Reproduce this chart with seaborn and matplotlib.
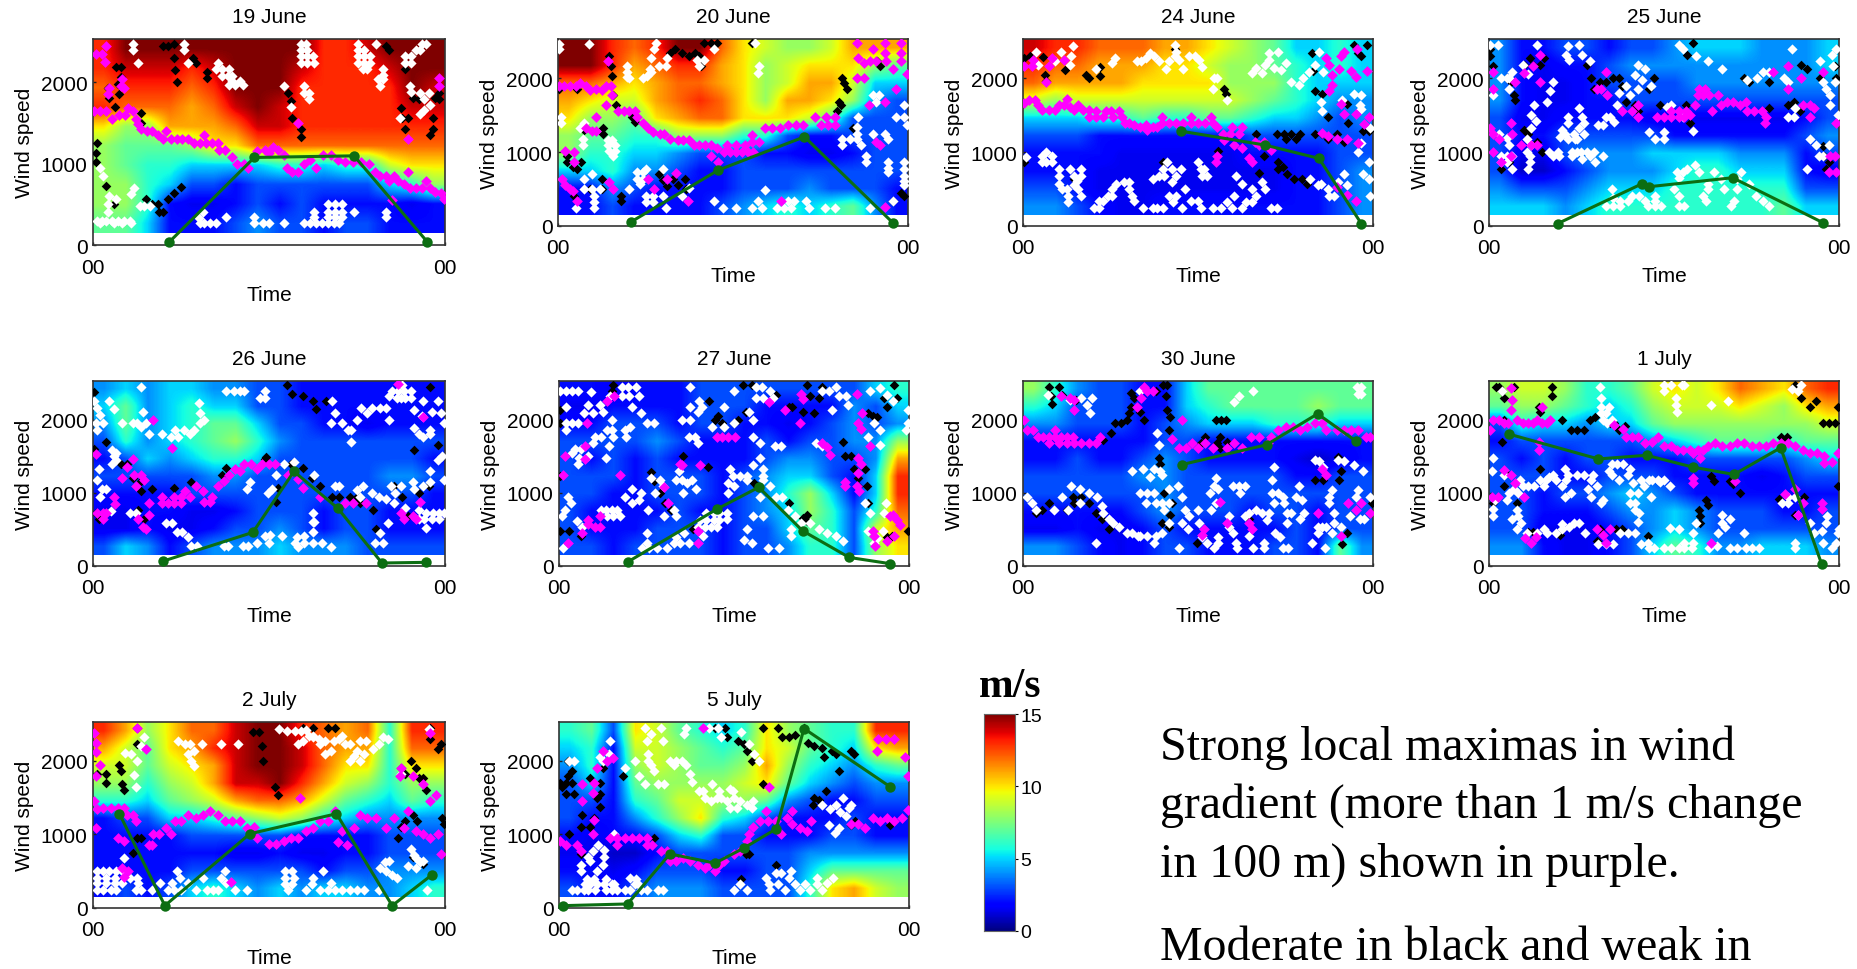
#!/usr/bin/env python3

import numpy as np
import seaborn as sns
import matplotlib
matplotlib.use("Agg")
import matplotlib.pyplot as plt

sns.set_style("white")
plt.rcParams['font.family'] = ['Liberation Sans', 'DejaVu Sans']
plt.rcParams['text.color'] = 'black'
plt.rcParams['axes.labelcolor'] = 'black'
plt.rcParams['xtick.color'] = 'black'
plt.rcParams['ytick.color'] = 'black'

W, H = 1857, 970

titles = ["19 June", "20 June", "24 June", "25 June", "26 June",
          "27 June", "30 June", "1 July", "2 July", "5 July"]
tick_hours = [0, 24]
tick_hour_labels = ["00", "00"]
tick_heights = [0, 1000, 2000]
cbar_ticks = [0, 5, 10, 15]

# wind speed (m/s), one row per height from top to bottom, 16 columns of 1.5 h
wind_19 = [[13,15,15,15,15,15,15,15,15,15,13,13,14,15,15,15],
           [13,14,14,14,13,14,15,15,15,14,13,13,13,14,15,15],
           [12,13,13,13,12,13,15,15,15,13,13,13,13,13,15,14],
           [13,12,12,12,11,12,14,15,14,13,13,13,13,13,14,14],
           [10,8,8,11,11,11,12,14,14,13,13,13,13,13,13,13],
           [8,7,7,7,8,10,10,12,12,12,12,12,12,12,12,12],
           [8,7,6,6,5,5,5,5,6,6,5,6,6,9,10,10],
           [8,8,6,5,3,3,2,3,3,3,3,3,3,5,6,8],
           [8,8,6,2,1.5,1.5,2,3,2,3,2,2,2,2,1.5,2],
           [7,7,5,2,2,2,3,4,3,3,2,3,3,2,2,2]]
wind_20 = [[15,15,13,12,13,15,15,12,10,9,8,8,9,11,11,11],
           [15,15,13,11,12,13,13,11,10,8,9,10,10,10,8,7],
           [12,12,11,10,11,12,12,11,10,8,9,11,11,9,5,5],
           [11,10,9,9,11,12,13,12,10,8,11,11,10,8,4,3],
           [10,8,8,7,10,11,12,12,10,10,10,9,7,3,3,3],
           [8,7,7,6,6,8,8,8,6,6,3,2,2,3,3,3],
           [8,6,6,5,5,4,3,3,3,2,2,1.5,1.5,2,3,3],
           [5,5,6,4,4,3,2,2,3,3,3,3,3,3,3,3],
           [2,2,4,3,2,2,2,2,3,3,3,4,3,3,3,2],
           [2,2,3,2,2,2,2,3,4,5,6,5,6,7,4,2]]
wind_24 = [[14,13,13,12,12,12,11,11,10,9,8,7,5,5,6,5],
           [13,12,12,11,11,11,10,10,9,8,8,7,6,5,6,5],
           [12,11,11,11,11,10,10,10,10,8,8,8,6,5,5,5],
           [9,8,9,9,9,9,9,9,9,9,8,7,6,5,4,4],
           [5,5,5,6,6,7,6,6,7,7,6,5,5,4,3,4],
           [3,3,3,2,2,2,2,2,2,2,3,3,3,3,3,3],
           [2,2,2,2,1.5,1.5,1.5,1.5,1.5,1.5,2,2,2,2,3,3],
           [2,2,2,1.5,1.5,1.5,1.5,1.5,1.5,1.5,1.5,1.5,2,2,3,4],
           [3,3,2,1.5,1.5,1.5,1.5,1.5,1.5,1.5,1.5,1.5,2,2,3,4],
           [4,4,3,2,1.5,1.5,2,2,2,2,2,2,2,2,3,4]]
wind_25 = [[4,2,2,3,3,2,3,3,4,5,5,5,4,4,4,5],
           [4,2,1.5,2,2,3,4,4,4,4,4,4,4,4,4,5],
           [4,2,1.5,1.5,2,3,3,3,3,4,4,4,4,4,4,4],
           [4,2,1.5,1.5,2,2,3,3,3,3,3,3,3,3,3,3],
           [3,1.5,1.5,2,2,2,2,1.5,1.5,1.5,1.5,1.5,1.5,1.5,2,3],
           [3,2,2,3,3,3,3,3,2,2,2,2,2,2,3,4],
           [3,1.5,1.5,3,4,4,4,5,5,5,5,4,4,4,2,3],
           [3,1,1,2,3,4,4,4,5,6,6,5,5,5,2,1.5],
           [4,3,3,3,4,5,5,5,6,6,6,6,6,6,3,3],
           [5,5,5,4,5,6,6,6,6,6,6,6,6,7,5,5]]
wind_26 = [[4,5,4,5,5,4,4,3,3,2,2,2,2,2,2,2],
           [5,7,4,5,6,5,5,3,3,2,2,2,2,2,2,2],
           [4,7,4,5,6,7,7,5,3,3,2,2,1.5,2,2,2],
           [3,6,4,5,6,7,8,6,4,3,3,3,3,3,3,3],
           [2,3,5,4,5,6,6,5,3,3,3,3,3,3,3,2],
           [3,3,3,3,3,4,4,3,3,3,3,3,3,4,4,3],
           [2,2,2,2,3,3,3,3,3,3,3,3,3,3,3,2],
           [1.5,1.5,2,2,1.5,1.5,2,3,3,3,2,3,3,2,2,2],
           [1.5,1.5,2,1.5,1.5,2,3,3,4,3,2,3,3,2,2,2],
           [3,5,4,2,3,4,4,4,5,4,4,4,3,3,3,3]]
wind_27 = [[2,2,1.5,2,2,2,3,3,3,3,3,3,3,3,5,6],
           [1.5,1.5,2,2,2,2,3,3,3,2,2,2,2,4,3,5],
           [2,2,3,3,3,2,3,3,2,2,1.5,2,3,4,3,4],
           [3,3,3,3,4,3,2,2,2,3,2,3,3,4,4,8],
           [3,2,3,2,3,2,2,2,2,3,4,4,3,3,4,11],
           [3,3,3,2,3,3,3,2,3,4,5,5,3,2,5,13],
           [3,3,2,2,3,3,3,2,3,4,6,8,5,2,5,13],
           [3,2,2,2,2,3,2,2,3,4,5,8,6,3,6,12],
           [3,2,2,2,3,3,3,2,3,3,5,7,6,3,9,11],
           [3,3,2,3,3,3,3,2,3,3,4,6,6,3,8,10]]
wind_30 = [[8,6,4,3,3,2,2,5,7,7,7,7,7,7,7,7],
           [6,5,3,3,3,2,2,5,6,7,7,7,7,8,7,7],
           [4,4,3,3,3,2,3,4,5,5,5,6,6,6,5,5],
           [2,2,2,2,2,2,3,3,2,2,2,2,2,2,2,2],
           [2,2,3,2,2,3,4,3,2,2,2,2,1.5,1,1.5,2],
           [3,3,3,3,3,4,4,3,3,3,3,3,2,2,3,3],
           [3,3,3,3,3,3,4,3,3,3,3,3,3,3,3,3],
           [2,2,2,2,2,3,4,3,3,3,2,3,3,2,3,3],
           [1.5,1.5,2,1.5,1.5,2,3,2,2,2,2,2,3,2,3,3],
           [4,4,3,2,1.5,2,3,3,2,2,2,3,3,2,7,4]]
wind_01 = [[8,9,9,8,6,6,7,9,10,9,10,12,11,10,12,13],
           [7,8,8,7,6,5,6,8,9,9,9,10,9,8,10,11],
           [3,6,5,5,4,5,5,7,8,8,8,8,8,8,8,9],
           [2,3,3,3,3,3,3,4,5,6,7,7,7,6,7,7],
           [3,2,3,2,3,3,2,2,2,3,3,3,3,3,4,5],
           [3,3,3,2,2,3,3,3,2,2,2,2,1.5,2,3,3],
           [3,3,2,3,3,4,5,4,3,2,2,2,2,2,2,2],
           [3,3,2,2,2,3,4,4,5,4,3,3,3,2,2,3],
           [3,3,1.5,1.5,1.5,2,3,4,5,4,3,3,3,3,3,3],
           [4,4,2,1.5,1.5,2,3,5,7,6,4,4,5,5,5,4]]
wind_02 = [[13,11,8,10,12,12,14,15,15,13,12,11,12,6,13,13],
           [11,9,7,10,11,13,14,15,15,14,12,11,11,6,12,12],
           [9,9,7,9,10,11,14,15,15,14,12,10,10,6,10,10],
           [8,8,6,8,9,11,14,14,15,13,11,9,8,6,8,8],
           [6,6,5,7,8,9,11,12,12,11,9,7,6,5,7,6],
           [2,3,3,5,5,6,7,8,9,8,6,5,4,4,4,4],
           [2,2,2,2,3,3,3,3,3,2,2,2,2,3,3,3],
           [2,2,2,2,2,2,1.5,1.5,2,1.5,1.5,2,2,3,3,3],
           [2,2,2,2,3,3,3,3,3,3,2,3,3,4,4,4],
           [2,3,2,3,5,6,5,4,5,4,5,5,4,4,5,6]]
wind_05 = [[6,7,3,10,9,7,6,5,6,10,8,7,6,6,13,13],
           [5,6,2,9,9,8,7,6,7,10,9,7,6,5,10,11],
           [4,6,2,8,9,8,7,7,8,11,8,6,5,4,6,7],
           [3,5,2,7,8,8,8,8,9,10,7,5,4,3,4,4],
           [3,3,2,6,7,9,9,8,8,7,4,3,2,2,3,3],
           [3,2,2,4,6,8,10,6,5,3,2,2,2,3,2,2],
           [2,1.5,2,2,3,5,6,3,3,2,2,2,3,3,2,2],
           [1.5,1.5,1,1,2,3,3,3,3,3,3,4,4,4,4,4],
           [2,2,1.5,2,3,3,3,2,2,3,3,5,7,7,7,7],
           [3,2,2,3,4,4,4,3,3,3,3,6,10,11,9,8]]

# green line: hour, height
green_19 = [(5.2,37),(11,1075),(17.8,1095),(22.8,37)]
green_20 = [(5,55),(11,757),(16.9,1207),(23,36)]
green_24 = [(10.8,1284),(16.6,1095),(20.3,914),(23.2,32)]
green_25 = [(4.7,32),(10.5,572),(11,532),(16.7,653),(22.9,45)]
green_26 = [(4.8,68),(10.9,460),(13.7,1293),(16.7,788),(19.7,41),(22.7,50)]
green_27 = [(4.7,54),(10.8,775),(13.7,1077),(16.7,482),(19.9,117),(22.7,32)]
green_30 = [(10.9,1387),(16.7,1658),(20.2,2081),(22.8,1712)]
green_01 = [(1.4,1802),(7.5,1464),(10.8,1514),(14,1351),(16.8,1252),(20,1617),(22.8,32)]
green_02 = [(1.8,1282),(4.9,32),(10.7,1010),(16.6,1282),(20.4,32),(23.1,450)]
green_05 = [(.3,32),(4.7,55),(7.6,736),(10.7,610),(12.7,818),(14.9,1077),(16.8,2441),(22.7,1650)]

# strong maxima (magenta)
strong_19 = [(.1,1650),(.5,1650),(.9,1650),(.2,2350),(.6,2350),(.8,2250),(.9,2450),(1.3,1550),(1.8,1600),(2.2,1600),
    (2.4,1680),(2.7,1650),(2.9,1550),(3.1,1480),(3.3,1420),(3.7,1400),(4,1400),(4.4,1350),(4.8,1300),(5,1400),
    (5.3,1300),(5.7,1300),(6.1,1300),(6.5,1300),(6.9,1250),(7.3,1250),(7.6,1350),(7.7,1250),(8.1,1250),(8.5,1250),
    (8.6,1170),(9,1170),(9.5,1080),(9.8,1000),(10.3,1000),(10.6,950),(11.2,1150),(11.7,1170),(12,1130),(12.3,1200),
    (12.6,1170),(13,1100),(13.2,950),(13.6,900),(14,900),(14.4,1000),(14.8,1050),(15.2,950),(15.7,1100),(16.2,1100),
    (16.7,1050),(17.2,1020),(17.7,1020),(18.3,1020),(18.8,1000),(19.2,900),(19.6,850),(20,850),(20.5,850),(20.2,780),
    (20.8,780),(21.2,750),(21.5,900),(21.6,700),(22,700),(22.4,700),(22.7,780),(23,700),(23.3,650),(23.7,640),(23.9,570),
    (1.9,1950),(2,2040),(1,1850),(1.1,1930),(2.1,1930),(14,1500),(20.4,550),(21.5,1300),(23.6,2050),(23.6,1950)]
strong_20 = [(.1,1890),(.4,1900),(.8,1900),(1.2,1900),(1.5,1930),(1.9,1900),(2.2,1840),(2.6,1860),(3,1840),(3.3,1900),
    (3.4,2230),(3.6,1900),(3.7,1770),(3.3,1640),(4.1,1550),(4.5,1550),(4.9,1550),(5.3,1550),(5.4,1480),(5.8,1390),
    (6.2,1320),(6.5,1270),(7,1250),(7.3,1250),(7.7,1180),(8.2,1160),(8.6,1160),(9,1160),(9.3,1090),(9.7,1090),(10.1,1090),
    (10.5,1090),(10.9,1060),(10.5,950),(11,860),(11.4,1000),(11.8,1000),(12.2,1000),(12.6,1000),(13,1000),(13.4,1000),
    (11.6,1090),(12.2,1090),(12.8,1090),(13.3,1130),(13.3,1230),(13.8,1140),(14.2,1320),(14.7,1320),(15.2,1320),(15.8,1360),
    (16.3,1360),(16.8,1360),(17.6,1470),(18,1360),(18.5,1360),(19,1360),(18.4,1480),(19,1480),(20.5,2000),(21,2000),
    (20.5,2480),(20.6,2270),(21,2200),(21.4,2230),(21.8,2230),(21.6,2400),(22.4,2480),(22.4,2340),(22.5,2230),(23,2130),
    (23.5,2480),(23.5,2340),(23.5,2230),(23.9,2050),(23.2,1860),(21.3,1640),(22.4,1680),(21.8,1140),(22.1,1100),
    (.3,640),(.5,560),(.8,500),(1,480),(.5,1020),(1.1,1000),(1.1,860),(2.6,1480),(1.9,1320),(2.3,1280),(2.6,1280),
    (1.3,340),(3.5,600),(3.8,500),(6.2,640),(6.6,500),(7.5,640),(8.1,720),(8.9,340),(15.3,340),(22.4,260)]
strong_24 = [(.1,1660),(.4,1700),(.8,1700),(1,1640),(1.3,1570),(1.8,1570),(2.2,1570),(2.5,1640),(2.8,1640),(3,1720),
    (3.2,1610),(3.5,1570),(3.8,1640),(4.1,1570),(4.5,1570),(4.5,1480),(5,1480),(5.5,1480),(5,1550),(5.7,1550),
    (6,1550),(6.2,1480),(6.6,1550),(6.8,1480),(7,1390),(7.3,1390),(7.6,1360),(8,1340),(8.4,1360),(8.5,1300),(8.9,1340),
    (9.2,1340),(9.5,1390),(9.5,1470),(10,1390),(10.5,1390),(11,1390),(11.5,1390),(11.5,1470),(12,1390),(12.5,1390),
    (13,1390),(12.9,1470),(13.3,1340),(13.7,1250),(14.2,1250),(14.3,1340),(14.8,1250),(15,1340),(13.8,1170),(14.5,1090),
    (15,1050),(15.5,920),(15.7,860),(13.2,860),(13.3,950),(15.9,1140),(16.5,1140),(16.2,1090),(17,1030),(.1,2160),(.6,2160),
    (.7,2250),(2,2270),(2.8,2250),(1.8,2160),(1.6,1950),(20.8,2270),(21,2180),(21.2,2040),(21,1820),(21.2,1910),(21.7,2130),
    (21.8,2300),(22,2350),(22.5,2100),(22.8,2020),(22.9,2400),(23.6,2100),(21.8,1650),(22,1520),(22.8,1520),(20.9,1220),
    (21.5,1180),(22.2,1180),(23,1120),(23.7,1470),(23.4,1380),(21.5,530),(22.2,420),(22.8,340),(20.5,1260)]
strong_25 = [(.1,1320),(.3,1250),(.7,1180),(.3,1000),(.8,860),(.3,2090),(.3,1860),(1.8,1950),(2.4,2070),(3,2160),(3.5,2320),
    (3.5,1950),(1.5,1400),(1.6,1250),(1.5,950),(2.2,1090),(2.9,1090),(3.3,1090),(7.4,1850),(7.7,1850),(8.1,1770),(8,2080),
    (9.1,1550),(9.8,1550),(10.2,1480),(10.2,1640),(11.5,1480),(12,1480),(12.5,1480),(13,1480),(13.4,1480),(12.5,1550),(13,1550),
    (13.5,1550),(13.8,1500),(14.1,1640),(14.3,1770),(14.7,1770),(15.1,1770),(15.7,1770),(14.4,1860),(14.8,1860),(15.3,1550),
    (15.9,1640),(16.3,1680),(16.7,1680),(17.2,1640),(17.6,1680),(17.7,1550),(18.2,1550),(18.7,1550),(19,1480),(18.9,1390),
    (19.5,2080),(20.5,2160),(21.4,2000),(20.5,1860),(21.5,1640),(22,1640),(22.3,1600),(22,1480),(22.9,2080),(23.8,1390),
    (23.4,950),(23.7,950),(23.3,730),(23.8,730)]
strong_26 = [(.2,1530),(.3,720),(.7,720),(.9,720),(.7,640),(1.4,950),(1.5,850),(2,1200),(2.3,1350),(2.7,1470),(2.8,1250),
    (2.9,1100),(3.3,1250),(3.5,1180),(3.1,640),(3.4,540),(3.6,500),(3.8,860),(3.8,700),(4.7,860),(4.7,950),(5.1,860),(5.5,950),
    (5.5,860),(6,860),(6,950),(6.3,1030),(6.6,950),(7,1090),(7.5,1030),(7.6,880),(8,880),(8.1,950),(8.5,1100),(8.9,1160),
    (9.3,1250),(9.7,1320),(10,1300),(10.3,1390),(10.8,1390),(11.2,1320),(11.5,1390),(12,1390),(12.4,1390),(13.3,1250),(14,1190),
    (14.3,1060),(15.5,950),(17.2,860),(17.7,860),(18.6,860),(4.1,2000),(5.4,1620),(21,720),(21.2,640),(21.8,680),(22,640),
    (22.3,880),(22.5,2040),(20.8,2490)]
strong_27 = [(.3,1250),(.4,1500),(.6,320),(1.6,450),(2,570),(2,630),(2.5,540),(2.8,540),(2.8,680),(3.8,2320),(3.3,2250),
    (1.9,1950),(1.8,1640),(1.8,1470),(4.2,1240),(7.2,1080),(7.5,860),(8.3,1390),(8.4,1380),(9.5,320),(9.5,480),(9.7,1380),
    (10.8,1770),(11.2,1770),(11.6,1770),(12.1,1770),(14.4,2240),(15.5,2140),(16.5,1950),(16.6,2350),(16.7,2280),(18,1680),
    (18.4,1630),(18.6,1520),(19.6,1150),(19.6,1090),(20.4,1090),(20.6,1030),(20.4,2350),(20.5,1950),(20.7,1870),(20.8,2090),
    (21.3,1640),(20.7,1390),(21.5,480),(21.6,410),(21.7,270),(22.7,680),(22.9,700),(23.2,630),(23.4,560),(23,410),(22.5,340),
    (20.5,1270),(20.5,1480)]
strong_30 = [(.1,2000),(.3,1860),(.7,1860),(1,1770),(1.4,1770),(1.8,1770),(2.2,1770),(2.2,1860),(2.6,1770),(3,1770),(3.4,1770),
    (1.8,1680),(2.5,1680),(3,1680),(3.5,1680),(4,1680),(4.5,1680),(5,1680),(5.3,1770),(2.6,2320),(3.2,2300),(3.5,2270),(3.5,2130),
    (7.8,2180),(8.1,2300),(8.5,2400),(8.3,2450),(8.9,2400),(10.9,2000),(10.2,1730),(10.7,1620),(11.2,1620),(11.6,1680),(12,1620),
    (12.5,1680),(13,1620),(14,1620),(14.5,1680),(15,1620),(15.6,1770),(16.2,1770),(16.8,1680),(17,1770),(17.5,1860),(18,1900),
    (18.5,1900),(19,1860),(19.5,1900),(20,1950),(20.5,1950),(20.8,1860),(21.5,1860),(22,1860),(22.5,1860),(23,1860),(23.5,1770),(23.8,1770),
    (12.3,420),(12.4,500),(13.5,880),(14,590),(15.5,590),(15.7,500),(20.5,1320),(20.8,1250),(20.2,720),(21.8,410),(22.3,860),(22.8,770),(23.2,860),(23.8,720)]
strong_01 = [(.1,1860),(.3,2000),(.7,2000),(1,1950),(1.3,1950),(1.5,2430),(1.6,2270),(1.5,2130),(1.9,2000),(2.3,1950),(2.7,1950),
    (3,1950),(3.3,2000),(3.6,1950),(4,1950),(3.4,1700),(3.4,1590),(3.6,2180),(4.2,2000),(8.6,1930),(9.2,1880),(9.4,1770),(9.8,1770),
    (10.2,1770),(10.7,1680),(11.2,1700),(11.6,1770),(12,1640),(12.5,1640),(12.9,1590),(13.3,1590),(13.8,1590),(14.3,1590),(14.7,1590),
    (15,1640),(15.5,1680),(16,1640),(16.5,1640),(17,1680),(17.5,1680),(18,1640),(18.5,1640),(19,1640),(19.5,1680),(20,1680),(20.5,1680),
    (21,1640),(21.5,1590),(22,1550),(22.5,1550),(23,1500),(23,1410),(23.5,1420),(23.9,1540),(14,1540),(14.5,1480),(14,1210),(14,1140),
    (.2,950),(.6,950),(1,1310),(1.5,1250),(1.8,1140),(2.4,950),(2.5,380),(2.9,320),(3.2,400),(7.4,500),(7.8,430),(8,320),(8.3,500),
    (16.9,1160),(15.2,320),(21,1050),(20.3,980),(21.5,860),(21.2,700),(22.8,860),(22.8,780)]
strong_02 = [(.1,2380),(.2,2250),(.2,2120),(.2,1800),(.5,1950),(.1,1450),(.3,1350),(.7,1360),(1.2,1360),(1.7,1360),(2.1,1360),(2.3,1270),
    (2.7,1270),(2.9,1180),(.2,1090),(1.7,950),(2.1,910),(3,2450),(3.6,2160),(3.8,860),(4,860),(2,550),(2.4,500),(2.1,420),
    (4.1,1000),(4.5,1000),(5,1090),(5.3,1000),(5.6,1180),(6,1180),(6.5,1270),(7,1230),(7.5,1270),(8,1320),(8.5,1270),(9,1180),(9.5,1180),
    (10,1180),(10.5,1090),(11,1100),(11.2,950),(12,870),(12.5,870),(13,910),(13.5,950),(14,950),(14.5,1050),(15,1090),(15.5,1180),(16,1180),
    (16.5,1320),(17,1050),(16.7,900),(17.3,860),(17.8,1090),(18.2,1270),(18.7,1230),(19.3,1230),(20,1090),(20.5,1230),(21.2,1090),(21.5,1320),
    (22,1050),(22.5,1000),(23,950),(23.5,1000),(23.7,730),(21,1910),(20.9,1800),(21.8,1800),(22.5,1680),(23,1450),(23.4,1540),(23,2380),(14.1,1500),(9.4,350)]
strong_05 = [(.1,910),(.5,860),(1.2,860),(1.5,770),(2.3,1000),(2.4,1200),(1.6,1450),(2.3,1560),(2.4,1700),(1.6,1680),(2.6,1900),(3,2130),(3.3,2000),
    (3.7,2040),(3.5,950),(4,860),(4,950),(4.5,950),(5,950),(5.5,950),(6,950),(6,860),(6.4,860),(7,770),(7.4,770),(7.6,640),(8,640),(8.5,680),(9,640),
    (9.5,590),(10,550),(10.3,590),(10.7,500),(11,590),(11.3,640),(12,730),(12.4,770),(12.9,910),(13,1000),(13.3,1100),(13.8,1180),(14.3,1180),(14.2,1320),
    (14.9,1180),(15.2,1000),(15.6,1230),(16,1140),(16,1320),(16.5,1090),(17,1050),(17.3,1180),(20,1140),(20.5,1140),(21,1090),(21.5,1230),(22,1180),(22.5,1230),
    (23,1180),(23.5,1230),(23.9,1330),(9.9,2450),(21.8,2130),(21.9,2300),(22.4,2300),(23,2300),(23.7,2050),(23.9,1800),(14.4,1640)]

# moderate maxima (black)
moderate_19 = [(.2,1020),(.2,1130),(.3,1250),(.9,730),(1.4,500),(3.6,560),(4,500),(4.5,400),(4.8,400),(4.4,500),(5.1,570),(5.5,640),(6,710),
    (4.8,2450),(5.1,2450),(5.5,2470),(5.5,2300),(5.6,2150),(5.7,2000),(7,2240),(6.8,2300),(7.8,2130),(7.8,2050),(1.6,2180),(1.7,1980),(1.9,2180),
    (1.9,2060),(1.8,1850),(1,1930),(1.1,1810),(1.5,1700),(3.3,1620),(3.3,1500),(13.3,1870),(13.5,1770),(13.6,1560),(14.2,1420),(14.2,1330),(21,1680),
    (21.1,1560),(21.3,1420),(21.5,1560),(21.3,2160),(20,2450),(20.2,2400),(23.2,1560),(23.2,1420),(23,1350),(21.8,1810),(22.2,1790),(23.6,1870),(23.6,1790),(23.3,1800)]
moderate_20 = [(.1,1860),(1.3,1860),(.6,950),(.6,860),(1,800),(1.3,770),(1.6,860),(1.1,410),(2.2,500),(3,640),(3,500),(1.8,1300),(3.1,1320),(3.1,1250),
    (3.5,2300),(3.6,2160),(3.7,2030),(3.8,1770),(4,1640),(5.3,1410),(5.1,1470),(4.3,340),(4.3,410),(6.9,700),(7.2,620),(7.5,540),(7.9,640),(8.2,560),(8.7,640),(8.8,500),
    (7.7,2340),(8,2400),(8.5,2340),(9,2300),(9.4,2340),(9.7,2300),(10,2480),(10.5,2480),(10.9,2480),(9.8,2160),(13.3,2480),(19.1,1550),(19.4,1640),(19.3,1680),(19.5,2000),
    (19.8,1860),(19.6,1930),(21.9,2230),(22.1,2160),(23,340),(23.5,450),(23.7,400),(22.4,1680),(20.2,1320)]
moderate_24 = [(.1,2270),(.5,2300),(1.4,2290),(1.5,2040),(1.6,1960),(.1,860),(2.9,2110),(4.3,2040),(4.5,2000),(5.3,2150),(5.3,2030),(3.5,640),
    (10.4,2400),(9.6,860),(13.8,1860),(13.9,1790),(13.4,1020),(16,1250),(17.4,1250),(17.9,1250),(18.4,1250),(18,1180),(18.7,1180),(19,1250),(20,1250),
    (20.5,1250),(20.9,1180),(21.5,1250),(17.5,860),(17.8,800),(18.1,700),(18.6,640),(19.1,640),(19.5,570),(16.5,950),(17.5,770),(16.2,720),(19.8,2340),
    (19.9,2100),(20,1820),(20.5,1780),(20.9,1470),(22,1130),(22.2,1650),(22.7,2450),(23,2340),(23.2,2300),(23.6,2450),(23.7,1280),(23.3,1280),(22.3,1390)]
moderate_25 = [(.1,2400),(.1,2300),(.3,2170),(1.2,2000),(1.5,1950),(1.7,1770),(1.8,1700),(2.4,2180),(2.8,2270),(3,2180),(3.5,2180),(3.8,2270),(2.4,1300),(2.7,1250),(3.3,1140),(3.6,1000),(1.4,860),
    (.8,770),(6.7,2180),(7,2000),(7.2,1860),(7.6,1950),(8,1950),(8.5,2000),(8.9,2000),(9.1,1900),(9.4,1680),(10,1640),(10.2,1550),(11.3,2000),(11,1860),(11.7,1640),(13.5,1640),(19.2,1950),(17.5,2000),(17.8,1950),
    (20.5,1640),(20.9,1680),(21.3,1550),(19.2,1590),(21.4,2180),(21.8,2130),(22.7,2000),(22.9,1080),(23,950),(23.3,860),(23.1,770),(23.7,2160),(23.8,2000),(13.8,1390),(14,2480),(13.6,2320)]
moderate_26 = [(.1,2380),(.1,1600),(.9,1700),(.2,720),(.4,640),(1.9,1400),(2.3,1400),(2.7,1200),(3.2,1150),(3.3,1030),(4,1050),(3.1,770),(3.5,640),(5.5,1070),(6.7,1150),(8.8,1250),(9.1,1340),
    (11.7,1460),(11.8,1490),(12.6,1060),(12.5,880),(13.5,1390),(14.3,1340),(14.9,1200),(15.5,1090),(16.3,950),(16.8,950),(17.5,950),(18,950),(18.2,860),(19.1,770),(19.3,500),(13.6,2350),(14.3,2320),(15,2250),
    (15.2,2150),(15.9,2250),(23,2450),(20.5,1090),(21.1,950),(22.2,1000),(22.9,1100),(21.9,1580),(23.5,1650),(21.5,680),(13.2,2480)]
moderate_27 = [(.1,2130),(.1,1950),(.1,1230),(.1,480),(.7,480),(1.5,410),(3.7,2480),(3.6,2400),(6.3,1280),(6.5,1160),(6.9,1000),(7.3,860),(7.7,770),(8.5,1500),(9.2,500),(10.3,2250),(10.9,2050),
    (11.2,1950),(12,1950),(12.3,2000),(12.8,2100),(10.7,1990),(10.2,1350),(13.4,1130),(13.6,1090),(12.6,2480),(13.2,2480),(14.9,2340),(15.8,2180),(16,2180),(16.5,1950),(16.7,2100),
    (17,2480),(17.2,2320),(17.5,2090),(17.8,2300),(18,2450),(19.5,1700),(19.6,1500),(20,1500),(20.2,1320),(20.5,1200),(20.5,1090),(21,1320),(21.1,1090),(21.2,860),(22.3,2300),(22.5,2180),
    (21.2,2090),(21.5,2050),(21.8,2040),(16.7,650),(17,620),(23,2480),(23.2,2300),(23.9,480),(22.8,410),(22.5,400),(15.8,860),(17,700)]
moderate_30 = [(1.8,2450),(1.9,2320),(2,2220),(2.5,2450),(2.7,2340),(3.6,2270),(.9,720),(1.3,770),(1.8,860),(3,770),(3.4,950),(3.5,860),(4,950),(4.5,860),(5,720),(5.4,640),(5.9,500),
    (5.5,1720),(6,1820),(6.3,1950),(6.7,1950),(7.1,2000),(7.3,2090),(7.4,2180),(7.6,2300),(7.4,2360),(8,2100),(8.3,2000),(9.1,2400),(9.6,2480),(9.9,2480),(9.8,2320),(9.9,2140),(10.1,2040),(10,1860),
    (9.3,1480),(9.4,1390),(9.7,1000),(9.5,590),(10.2,860),(10.1,700),(10,540),(11.9,320),(13.3,1680),(13.5,1770),(13.2,2000),(13.6,2000),(13.9,2000),(13.5,1620),(12.5,1770),(12.2,1680),(14,1700),
    (20,1180),(20.6,1180),(21.6,1490),(21.8,1300),(21.7,1180),(22.4,680),(21.9,300),(22.2,450),(23.9,860),(15.5,640)]
moderate_01 = [(.5,2450),(.7,2450),(.9,2400),(1,2300),(1,2000),(.9,1700),(1.7,2450),(3.4,2180),(3.5,2100),(4.3,2450),(4.3,2320),(5,2000),(5.6,1860),(6,1860),(6.5,1860),(6.9,2000),(7.3,2040),(8.3,1950),(8.6,1950),(8.9,1860),(9.3,1920),
    (1.1,1280),(1,1090),(.3,860),(3.5,1330),(1.9,860),(2.7,470),(3,470),(4.9,430),(7.4,340),(7.6,500),(8.7,500),(9.1,500),(9.5,450),(10.9,410),(15.2,1230),(15.4,1160),(16.5,1160),(16.7,1120),(17.2,1000),
    (14.4,770),(14.5,680),(14.5,590),(14.9,900),(15,830),(20,1770),(20.2,1700),(20.4,1770),(21,2480),(21.4,2300),(22,2180),(22.4,2250),(22.9,1950),(23.3,1950),(23.7,1950),(23.9,2180),(23.9,1090),(19.9,910),(21,700),(21.6,950)]
moderate_02 = [(.3,1820),(.9,1820),(.9,1700),(1.8,1950),(1.9,1870),(2,1680),(2.1,1610),(3,2450),(3,2230),(2.7,750),(3,950),(3.3,950),(10.9,2400),(11.3,2400),(11.5,2210),(11.6,2000),(12.4,1640),(12.6,1540),
    (21,1900),(21.3,1820),(21.7,2000),(22,1900),(22.2,1770),(22.5,1770),(22.7,1600),(23,2300),(23.5,2160),(23.7,2230),(23.8,1230),(23.9,1140),(21.8,1270),(22.1,1180),(21.3,1180),(20.8,950),(21,1100),
    (14.3,2450),(15,2450),(16,2450),(16.5,2450),(23,2450),(22.5,600),(21.8,700)]
moderate_05 = [(.1,1700),(.2,1640),(.5,1550),(.5,1700),(.6,1800),(.6,2000),(.9,1870),(.9,1700),(1,1550),(1.6,1270),(1.5,1100),(2.1,1100),(2.4,1230),(2.8,1370),(2.8,1550),(2.8,1700),(2.1,1770),(3,1900),(2.6,1500),
    (.7,1000),(1.2,860),(1.5,730),(4.4,1800),(6.5,950),(10.7,2450),(11.4,2450),(11.5,2320),(12.3,2270),(12.7,2230),(13.2,2000),(14,1680),(12.8,730),(13,730),(14,2450),(15,2450),(15.3,2320),(15.8,2320),(16.2,2350),
    (16.8,2450),(17.1,2250),(17.5,2200),(18,2180),(18.2,2050),(18.7,2130),(19,2090),(19.2,1870),(20,2130),(20.2,2090),(12.9,2130),(17.4,1400),(17.8,1470),(18.3,1590),(20,1130),(20.3,1180),(17.5,1500),(12.5,400),(14.9,580),(22.7,1130)]

# weak maxima (white)
weak_19 = [(.3,300),(.6,300),(.9,300),(.5,270),(1.3,300),(1.7,300),(2.1,300),(2.5,300),(1.4,270),(2,270),(2.6,270),(1,400),(1,500),(1.1,600),(1.6,560),(2.8,700),(2.6,630),(3.2,480),(3.5,480),(3.9,480),
    (.5,940),(.7,850),(7.3,270),(7.6,270),(8,270),(8.4,270),(7.5,400),(7.2,330),(9.1,340),(11,270),(11,340),(11.6,270),(12,270),(13,270),(14.4,270),(14.8,270),(15.2,270),(15.6,270),(16,270),(16.4,270),(16.8,270),
    (15.1,400),(15.1,340),(16,340),(16.5,340),(17,340),(16,400),(16.5,400),(17,400),(16,500),(16.5,500),(17,500),(17.8,400),(20,400),(20,340),
    (2.7,2470),(2.7,2400),(3.1,2240),(6.2,2470),(6.2,2400),(6.5,2240),(8.5,2240),(8.4,2160),(8.8,2160),(9.3,2160),(8.8,2080),(9.2,2080),(9.5,2080),(9.3,1960),(9.7,1960),(10.2,1960),(9.5,2020),(10,2020),
    (13,1950),(13.5,1700),(14.4,1950),(14.4,1870),(14.7,1870),(14.7,1790),(14.2,2470),(14.5,2470),(14.2,2400),(14.6,2400),(14.2,2320),(14.6,2320),(15,2320),(14.2,2240),(14.6,2240),(15.1,2240),
    (18.1,2470),(18.1,2400),(18.5,2400),(18.1,2320),(18.5,2320),(18.9,2320),(18.1,2240),(18.5,2240),(18.9,2240),(18.4,2160),(18.7,2160),(19.3,2470),(19.4,2040),(19.8,2040),(19.6,1950),(19.8,2160),(19.8,2090),
    (21.3,2320),(21.7,2320),(22,2400),(22.3,2400),(22.7,2470),(22.4,2470),(21.3,2240),(21.7,2240),(21.6,1950),(21.7,1880),(22.3,1870),(22.9,1870),(22.6,1790),(23,1720),(22.6,1660),(22.3,1610),(20.9,1560)]
weak_20 = [(.1,2400),(.1,2460),(2.1,2460),(.2,1390),(.2,1480),(1.5,1320),(1.8,1390),(4.7,2160),(4.7,2090),(4.7,2020),(4.9,2000),(5.8,2000),(6.1,2030),(6.4,2090),(6.3,2130),(6.4,2270),(6.7,2480),(6.6,2390),(6.9,2160),(7.4,2160),(7.5,2270),
    (9.5,2250),(10,2250),(9.7,2160),(10.7,2390),(13.5,2480),(13.8,2160),(13.7,2070),(3.4,1160),(3.7,1160),(3.4,1090),(3.9,1090),(3.5,1020),(3.9,1020),(3.8,950),(1.7,1180),(1.7,1090),(2.3,700),(1.8,640),(1.8,500),(2.3,500),(2.9,500),
    (2.5,410),(2.5,320),(2.5,250),(1.2,250),(4.9,500),(5.4,730),(5.8,730),(5.4,640),(5.8,640),(5.6,570),(6,770),(6,410),(6.5,410),(6,320),(6.5,320),(7.2,770),(7.2,410),(7.4,250),(8.5,410),(9,520),(14.2,490),
    (10.7,340),(11.3,250),(12.2,250),(13.3,250),(13.7,340),(14,250),(15,250),(15.5,250),(16,250),(15.8,340),(16.2,340),(17,340),(17.2,250),(18.3,250),(19,250),(21.4,250),
    (19.5,1180),(20,1180),(20.5,1180),(19.5,1090),(20.5,1340),(20.5,1250),(20.6,1480),(20.8,1090),(21.1,950),(21.1,860),(21.6,1770),(22,1770),(21.8,1680),(21.6,1250),(22.6,860),(22.6,790),(22.6,730),
    (23.7,860),(23.7,770),(23.7,680),(23.7,610),(23.7,550),(23.2,1480),(23.7,1640),(23.7,1480),(23.9,1360),(22.4,1250),(23,340),(22.6,1180)]
weak_24 = [(.2,940),(1.3,860),(1.6,860),(2,860),(1.3,950),(1.6,1000),(2,950),(2.5,770),(2.5,680),(2.5,570),(2.7,500),(3,500),(3.1,320),(3.1,410),(3.2,770),(3.5,680),(3.7,610),(3.5,550),(3.8,500),(4,410),(4,680),(4,770),
    (4.9,250),(5.2,250),(5.2,340),(5.5,340),(5.8,410),(6.1,410),(6.1,500),(6.4,570),(6.9,590),(7.3,590),(7.3,500),(7.5,410),(7.6,340),(8.2,250),(8.9,250),(9.2,250),(9.6,250),(8.9,630),(9.3,680),(9.6,770),(9.7,680),(9.9,860),
    (10.2,770),(10.5,680),(10.8,770),(10.2,590),(10,410),(10.3,320),(10.5,410),(10.9,250),(11.1,500),(11.5,340),(12,340),(12.2,250),(13,250),(13.6,250),(14,320),(14.3,250),(14.5,410),(15,250),(15.3,320),(15.7,320),(16,400),
    (14.6,680),(15,570),(15.7,500),(16.4,590),(16.6,500),(12,860),(12.2,770),(12.3,680),(12.6,680),(12.4,770),(17,250),(17.4,250),
    (1,2180),(.9,2360),(2.2,2230),(2.6,2360),(3.3,2300),(3.4,2430),(3.2,2180),(5,2130),(6.3,2270),(6.1,2200),(7.8,2230),(8.1,2230),(8.4,2270),(8.7,2340),(9,2300),(9.3,2230),(9.8,2130),(10,2230),(10.4,2300),(10.7,2250),(11,2130),
    (11.4,2300),(11.8,2300),(12.1,2250),(12.3,2150),(10.4,2450),(10.5,2350),(13.1,2000),(13.3,2000),(13,1860),(14,1700),(15.7,2070),(16,2140),(16.4,2070),(16.6,2180),(16.9,2250),(17.2,2140),(17.7,2110),(18,2200),(17.5,2360),(16.9,2340),
    (18.4,1950),(18.9,1910),(19.2,2000),(19.6,2090),(20.3,2360),(20.6,2090),(20,2180),(20.4,1680),(20.5,1560),(21.9,1700),(22.7,1780),(23.1,1640),(23.2,1770),(23.2,1580),(23,1000),(23.7,860),(23.3,700),(23.7,640),(23.8,410),(20.4,570),
    (19.7,640),(20.2,550),(20.9,500),(21.3,410),(22,700),(22.2,550),(21.6,590),(21,410),(23.2,1120),(23.8,1330)]
weak_25 = [(.1,2450),(.6,2450),(.3,1770),(.8,2000),(1.2,2000),(1.4,2000),(1.4,1860),(1.6,2090),(2.3,2180),(2.7,2050),(3.3,2450),(5.3,2320),(5.4,2430),(5.5,2240),(6.2,2450),(6.4,2320),(6.9,2230),(4.4,1950),(4.2,1820),(4,1680),
    (.7,1250),(1.2,1190),(1.4,1090),(.8,950),(1.2,950),(1.6,950),(.8,860),(1.2,860),(1.6,770),(2.6,1180),(2.6,1000),(2.9,1090),(2.8,950),(2.8,860),(2.7,770),(2.9,1320),(3.2,1420),(2.9,1500),(3.1,1640),(4.1,1000),(4.4,950),(4.7,1000),(4.8,950),
    (5,1300),(4.9,1200),(5.2,1250),(5.4,1480),(5.4,1390),(5.4,1180),(5.8,1250),(5.9,1180),(5.7,1000),(5.7,950),(6,1180),(6.2,1320),(6.4,1480),(6.2,1590),(6.5,1390),(6.5,1250),(6,1000),(6.3,1000),(6.7,1000),(7.2,1000),(6.4,900),(6.9,950),(7.3,860),(7.8,950),
    (7.5,1360),(7.8,1360),(8,1480),(8.3,1480),(8.6,1410),(8.8,1640),(8.9,1800),(9.4,1900),(9.7,1770),(10,2040),(10.2,2180),(10.7,2130),(10.2,1860),(10.5,1980),(11.1,1900),(11,1270),(11.4,1180),(12,1180),(12,1270),(12.2,1610),(12.5,1640),(14,1290),(13.3,1480),
    (8.4,500),(8.5,380),(8,270),(8.5,270),(9,340),(9.5,340),(9,270),(9.8,410),(10.3,410),(10.7,340),(10.9,270),(11.4,410),(11.4,340),(11.4,270),(11.8,270),(12.7,500),(13,410),(13,270),(13.4,270),(12.9,730),(13,650),(13.3,730),
    (13.6,770),(14.1,820),(14.4,730),(14.7,410),(14.9,340),(15,570),(15,500),(15.4,730),(15.9,640),(16.1,500),(16.6,270),(16.8,340),(17,500),(17.3,730),(17,640),(17.8,570),(18.3,410),(18.8,340),(19.2,270),(13,2450),(13.3,2400),(14.2,2300),(15,2230),(16,2130),(20.8,2390),(20.5,1950),
    (17.7,1970),(18.4,2000),(18.8,2090),(19.2,2090),(20.2,2000),(21,1590),(20.5,1480),(20.9,1480),(22,1180),(21.8,770),(22.7,2230),(22.9,1950),(23.1,1860),(23.4,1770),(23.4,1640),(23.7,1950),(23.6,2160),(23.9,1500),(22.4,1090),(22.9,950),(22.6,950),(23.3,1090),(23.5,2320),(23.8,2400)]
weak_26 = [(.1,2250),(.3,2160),(.5,2070),(1.1,2250),(1.4,2150),(.3,1860),(.2,1950),(.7,1950),(1.3,1590),(1.4,1500),(1.6,1450),(1.3,1400),(1.6,1550),(.4,1320),(.3,1180),(.6,1050),(.9,1050),(.5,950),(1.2,750),(2.5,720),(2.9,720),
    (2,1950),(2.7,1950),(3,1950),(3.3,1900),(3.6,1950),(3.8,1800),(3.4,2100),(3.3,2450),(4.7,1800),(5.3,1760),(5.6,1860),(5.8,1760),(6.2,1860),(6.6,1800),(6.9,1860),(7.3,1950),(7.6,2000),(7.2,2230),(7.3,2090),
    (9.1,2400),(9.6,2400),(10,2400),(11.4,2300),(11.7,2400),(10.3,2400),(11.7,2300),(5,590),(5.4,590),(5.7,460),(6.1,460),(6.7,280),(6.5,390),(7.1,280),(8.9,280),(9.2,280),(10.2,280),(10.6,280),(11.2,320),(11.7,410),
    (12,320),(12.1,430),(12.9,410),(13.8,320),(13.9,390),(14,260),(14.4,320),(14.4,410),(15,320),(15,460),(15,600),(15,730),(15.1,600),(15.6,320),(16.2,260),(10.5,1050),(10.7,1150),(11.9,1000),(12.2,1050),(12.5,1250),(13.7,1420),(13,1400),(15.1,1250),
    (16.5,1090),(16.8,1090),(18,1040),(18.2,950),(18.4,1090),(19,1000),(19.5,950),(19.2,320),(19.8,320),(20.1,590),(19.6,450),(20,910),(20.3,1090),(20.5,860),(20.6,1000),(21,1090),(21.3,800),(21.8,1150),(21.9,1050),(22.5,1100),(23,1300),
    (23,1150),(22.2,770),(22.7,720),(23.2,720),(23.6,720),(23.9,720),(22.2,640),(22.6,640),(23.1,640),(23.6,640),(22.7,520),
    (16.3,2250),(16.5,2090),(16.2,1950),(17,1960),(17.4,1860),(17.6,1700),(17.6,1860),(18,2000),(18.3,2160),(18.7,2090),(19,2160),(19.6,2160),(20,2160),(20.2,2000),(20.2,2320),(20.7,2300),(21,2300),(21.3,2300),(21.7,2300),(20.4,2400),(20.8,2400),(21.2,2400),(21.7,2400),(21.1,2480),
    (21.9,1890),(22.2,1800),(22.5,1770),(23,1800),(21.9,2130),(22.4,2050),(22.5,2250),(23.1,2100),(23,1860),(23.5,2250),(23.7,2090),(23.9,1950),(23.5,1450),(23.8,1500),(23.9,1180)]
weak_27 = [(.1,2400),(.5,2400),(.9,2400),(1.3,2400),(2.2,2380),(.5,2180),(2,2200),(1.7,2090),(2.3,2090),(.5,1950),(.9,1950),(1.3,1950),(.5,1860),(3,2100),(3.5,2320),(4.3,2450),(4.7,2450),(5.3,2450),(4.3,2320),(4.8,2320),(5.5,2320),(5,2180),(5.6,2090),(6,1950),(6.5,1950),
    (3.6,2000),(3.6,1860),(3.3,1860),(3.7,1770),(2.5,1770),(2.9,1770),(2.3,1680),(1.1,1600),(1.5,1600),(.9,1550),(1.4,1480),(1.3,1390),(2,1500),(3.2,1480),(3.4,1640),(4.5,1860),(4.6,1770),(4.9,1900),(.6,950),(.8,860),(.4,770),(.2,680),(.3,250),(1.2,620),(1.6,540),
    (2.9,770),(3.2,770),(3.6,770),(4,770),(4.2,680),(3.3,680),(3.7,680),(2.8,2200),(4.5,950),(5,1050),(5.6,1000),(5,860),(5.5,900),(6.1,770),(6.6,1000),(6.3,1200),(6.9,1180),(7.1,1090),(7.2,680),(7.9,770),(8,680),(8.5,1000),(8.8,1140),(9.1,1180),(9.4,1050),(8,1180),(8.4,1180),(8.2,1300),
    (6,450),(6,320),(5.7,250),(6.2,250),(6.7,250),(7.4,250),(7.9,320),(8.3,320),(8.9,320),(8,400),(8.6,450),(9.5,540),(9.7,630),(10.1,630),(10.6,630),(11,630),(10.1,730),(10.6,730),(11,730),(10,540),(10.4,540),(10.8,540),(9.9,410),(11.5,730),(11.5,640),
    (11.6,1140),(11.9,1230),(12.4,1230),(12.9,1230),(11.7,1320),(11.6,1000),(12,1090),(12.9,1180),(13.8,1480),(13.3,1380),(14,1320),(14,1230),(14,1180),(14.5,1090),(14.9,950),(15.3,950),(13.8,950),(14,680),(13.3,680),(13.2,320),(12.7,360),(12.9,500),(14.3,250),(15.1,250),
    (15.7,770),(16.2,680),(16.6,590),(15.9,500),(15.9,410),(17.2,590),(17.8,500),(18.4,450),(19,410),(19.5,340),(10.5,1900),(11.3,1900),(12,1950),(13,2100),(13.3,2000),(13.3,1770),(13.8,1680),(14.8,1640),(15.2,1640),(9,2000),(9.5,2100),(9.6,2250),(9.8,2180),(11.3,2180),(8.9,1770),(9.3,1770),(9.5,1680),
    (8.4,2000),(9,2180),(9,2450),(12,2400),(13.5,2450),(13.9,2450),(13.5,2300),(14,2300),(14.5,2400),(14.7,2300),(18,2400),(18.5,2400),(19,2450),(19.2,2320),(19.7,2320),(19.8,2200),(18.7,2130),(21.3,2400),(22,2430),(22.5,2340),(22.9,2250),(21.6,1950),(22,1860),(21.2,1770),(22,1660),(23.9,1950),(23.9,2130),(23.8,1860),
    (17.6,1680),(18,1640),(21,860),(21.3,720),(22.4,860),(22.3,720),(21.2,480),(21.8,380),(22.2,480),(21.6,320)]
weak_30 = [(.3,950),(.6,860),(.9,770),(2.1,770),(2.7,950),(3.1,770),(3.3,1090),(3.9,1050),(4.5,1000),(3.9,860),(5.1,950),(5.4,820),(5.5,720),(5.9,640),(6.2,590),(6.6,540),(7.1,450),(7.5,450),(8,410),(8.5,410),(5,320),(7.9,410),(9,320),(9.1,410),(9.5,450),(10,590),
    (8.4,860),(8,1000),(8.5,1000),(9,1000),(9.1,860),(8.2,1320),(8.7,1220),(9,1320),(9.4,1300),(9.3,1650),(9.2,1820),(9.5,1240),(9.5,860),(9.7,770),(10,860),(10,1050),(10.6,1090),(10.9,950),(11.1,770),(11.4,680),(10.9,590),(11.3,500),(12,770),(12.1,590),(10.7,240),
    (12.3,400),(12.6,320),(13.1,250),(13.4,320),(13.4,400),(12.9,770),(13.2,860),(12.8,1000),(13.1,1090),(13.2,1200),(13.4,1050),(14.1,680),(14.1,540),(14.4,450),(14.6,320),(14.7,250),(14.4,1090),(14.8,1090),(15.2,1090),(14.9,1000),(15.2,680),(15.5,410),(15.5,720),(16,770),(16.4,720),(16.7,630),(15.8,250),(16.5,320),(16.5,250),
    (16.9,720),(17.2,860),(17.1,1000),(17.1,1180),(17.2,1350),(17.5,1000),(17.8,950),(17.9,860),(18.1,720),(18.1,590),(17.3,450),(17.6,400),(17.8,250),(18.2,250),(18.9,1090),(18.7,950),(18.4,720),(19,640),(19.1,900),(19.3,720),(19.8,320),(20.2,540),(20.2,450),(20.7,250),(20.5,540),
    (20,1450),(20.3,1440),(20.6,1350),(21.2,1040),(21,860),(21.3,720),(21.8,540),(21.2,450),(21.3,590),(20.8,540),(21,950),(21.6,1450),(22,1440),(22.7,1380),(23.3,1300),(22.8,950),(23,1040),(22.4,680),(23.1,640),(23.4,640),(23.8,950),
    (3.2,2270),(4,2300),(4.4,2200),(4.6,2090),(4.7,2300),(1.7,2340),(14.5,2240),(14.8,2320),(15.8,2390),(22.9,2450),(23.2,2450),(23,2350),(23.2,2350),(8,2400),(7.5,1300)]
weak_01 = [(.3,1480),(.2,1300),(.4,900),(.3,780),(.3,680),(1,1250),(1.2,900),(1.4,1000),(1.7,1050),(2,1000),(2.1,1180),(2.3,1090),(2.7,1090),(3.1,1090),(3.5,1180),(3.9,1180),(3.8,1090),(4.1,1220),(4.4,1250),(4.6,1180),(5,1090),(5.3,1180),(5.2,1320),(5.4,1250),
    (6,1250),(6.5,1250),(7.1,1250),(7,1180),(7.4,1090),(7,950),(6.8,1050),(8.4,1240),(8.9,1180),(9.7,1000),(9.7,860),(9.9,1140),(11.2,1180),(11.7,1150),(12,1180),(12.4,1100),(11.1,950),(11.6,1180),(8.2,1300),(8.4,1390),(8.8,1390),(9.2,1390),(9.7,1320),(9.5,1250),
    (7.7,860),(7.8,900),(10,860),(10,770),(10.3,720),(10.6,1090),(10.2,1000),(11,1180),(10.4,1180),(5.6,1000),(5.2,950),(1.6,640),(1.9,770),(2,680),(2.2,590),(1.9,500),(2.6,450),(3.3,450),(3.8,500),(4,450),(4.6,450),(5,500),(5,570),(5.5,540),(5.8,590),(6.2,590),(6.6,450),(7.5,300),(8,300),(8.5,300),(9,450),
    (9.5,450),(10,450),(10.2,600),(10.4,300),(10.9,320),(11,250),(11.3,250),(12,250),(12.5,250),(13,250),(13.4,250),(12.4,520),(13,500),(13.4,320),(13.9,250),(14,450),(14.2,590),(14,320),(15.1,250),(15.6,270),(15.7,450),(16,590),(16,700),(16.5,640),(16.2,540),(16.5,250),(17,250),(17.6,250),(18,250),(18.5,250),(17.5,450),
    (20.1,860),(20.5,860),(21,950),(20.5,950),(21.2,700),(21,320),(21,250),(22,590),(22.3,450),(22.8,480),(22.9,320),(23.1,590),(23.2,680),(23.5,250),(23.8,320),(23.9,450),(24,500),(7.6,2450),(7.7,2300),(7.7,2180),(7.7,2090),(8,2090),(8.2,2180),(8.4,2000),(7.8,2000),(8.1,1950),
    (12,2480),(12.5,2480),(12.8,2300),(13.2,2480),(13.4,2480),(12,2400),(12.8,2200),(12.9,2100),(15.2,2200),(20.8,2420),(21.2,2400),(21.4,2480),(16.4,2250),(.9,2400)]
weak_02 = [(.3,250),(.7,250),(1.2,250),(1.6,250),(.3,340),(.9,340),(1.5,340),(2,340),(.3,500),(.7,500),(1.1,500),(2,500),(.3,410),(.9,410),(1.5,410),(1.6,500),(2.1,680),(2.5,410),(3,410),(3.1,340),(2.9,250),(3.3,250),(4,250),(4.6,340),(5.1,250),(5.5,250),(5.4,340),(5.7,500),(5.9,410),(6,250),(6.5,340),
    (7,250),(7.5,410),(7.8,250),(8.2,250),(8.5,250),(8.7,410),(9,500),(9.1,340),(9.7,250),(10.5,250),(13.1,500),(13.1,410),(13.1,320),(13.3,250),(13.6,500),(13.7,410),(13.6,320),(14.5,250),(14.9,320),(15,410),(15.5,250),(16,250),(16.5,250),(17,250),(17.5,250),(18,250),(18.5,250),(19.5,250),(15.7,500),(16.2,340),
    (19.6,550),(20,500),(20.4,450),(19.9,620),(20.2,640),(20.7,410),(22.8,250),(21,1820),(22,680),(22.3,620),(21.7,800),(22,550),(21.5,570),(22.5,640),(21.9,720),
    (5.8,2270),(6.3,2230),(6.6,2230),(7.4,2230),(6.5,2090),(6.7,2000),(6.9,2140),(6.9,1930),(8.7,2230),(9.9,2230),(14,2230),(14.3,2270),(14.7,2340),(15,2340),(15.4,2300),(15.8,2270),(16.4,2270),(16.8,2300),(17,2340),(17.5,2230),(18.2,2270),(18.6,2270),(19.1,2160),(19.5,2230),(19.8,2320),(20.1,2300),
    (17.5,2000),(17.8,2070),(18,2140),(18.2,2000),(18.5,2090),(14.2,2410),(14.5,2420),(15,2320),(15.5,2230),(15.8,2090),(16.2,2140),(17.2,2230),(12.7,2440),(13.2,2410),(13.8,2410),(2.2,2110),(2.6,2090),(2.9,1650),(2.8,1810),(3.3,2200),(3.5,2320),(3,2000),(22.9,2430)]
weak_05 = [(.9,250),(1.2,250),(1.7,250),(2,250),(2.5,250),(1.8,320),(2.1,320),(2.6,320),(3.1,320),(3.6,320),(3.2,250),(3.6,250),(4,250),(4.5,250),(4.9,250),(5.2,320),(5.6,250),(6,250),(6.8,250),(7.1,250),(1.9,400),(2.4,400),(3.2,400),(3.8,320),(4.9,410),(5.4,320),(5.3,400),
    (1.5,500),(1.5,590),(2.6,500),(3,590),(2,700),(2.3,770),(2.7,860),(3.1,700),(2.1,640),(3.1,790),(.7,2000),(1,2000),(3,2000),(3.4,2100),(3.8,1000),
    (4.5,1910),(5.2,2000),(5.5,1800),(5.9,1680),(6.1,2000),(6.1,2100),(6,2270),(6.3,2360),(5.9,2450),(6.3,1950),(6.5,1860),(6.8,1680),(7.2,1680),(7.6,2000),(8,2000),(8.4,2000),(8.7,1950),(7.9,1950),(7,2450),(7.1,2270),(8.6,2360),(8.7,2450),
    (9,1820),(9.1,1720),(9.6,1590),(10,1500),(10.4,1450),(10.8,1500),(11.1,1500),(11.5,1450),(11.7,1360),(12.2,1360),(12,1500),(12.4,1450),(12.9,1400),(9.9,1590),(10.5,1680),(11,1590),(11.7,1620),(11.9,1590),(13.3,1450),(13.2,1360),
    (13.4,2090),(13.7,2000),(13,2230),(12.5,2400),(11.1,2320),(10.3,2450),(10.9,2450),(2.8,2050),(3.5,2270),
    (12,250),(12.4,320),(12.9,250),(14.2,410),(14.4,320),(14.5,250),(14.9,480),(15,320),(15.5,250),(15.8,410),(16.2,320),(16.5,250),(16.9,320),(17.2,250),(17.7,320),(18,250),(18.4,340),(18.8,410),(15.2,480),(15.9,500),
    (17.7,410),(18.5,1130),(18.9,1020),(19.2,1090),(19.7,1250),(19.3,1300),(19.9,1360),(18.6,1340),(19,1400),(18,1400),(19.5,1500),(20,1400)]

wind_tables = [wind_19, wind_20, wind_24, wind_25, wind_26, wind_27, wind_30, wind_01, wind_02, wind_05]
green_tables = [green_19, green_20, green_24, green_25, green_26, green_27, green_30, green_01, green_02, green_05]
strong_tables = [strong_19, strong_20, strong_24, strong_25, strong_26, strong_27, strong_30, strong_01, strong_02, strong_05]
moderate_tables = [moderate_19, moderate_20, moderate_24, moderate_25, moderate_26, moderate_27, moderate_30, moderate_01, moderate_02, moderate_05]
weak_tables = [weak_19, weak_20, weak_24, weak_25, weak_26, weak_27, weak_30, weak_01, weak_02, weak_05]

# left, right, top, bottom of each panel in pixels
boxes = [(93,445,40,246), (558,908,40,227), (1023,1373,40,227), (1489,1839,40,227),
         (93,445,382,567), (559,909,382,567), (1023,1373,382,567), (1489,1839,382,567),
         (93,445,723,909), (559,909,723,909)]
top_height = 2530
grid_floor = 150


def px_rect(left, right, top, bottom):
    return [left / W, 1 - bottom / H, (right - left) / W, (bottom - top) / H]


fig = plt.figure(figsize=(W / 100, H / 100), dpi=100)
cax = fig.add_axes(px_rect(984, 1015, 715, 932))

for i, box in enumerate(boxes):
    left, right, top, bottom = box
    grid_bottom = bottom - (bottom - top) * grid_floor / top_height
    ax = fig.add_axes(px_rect(left, right, top, grid_bottom))
    wind = np.array(wind_tables[i], dtype=float)
    sns.heatmap(wind, ax=ax, cmap="jet", vmin=0, vmax=15, xticklabels=False, yticklabels=False,
                cbar=i == 0, cbar_ax=cax if i == 0 else None)
    # smooth the cells the way the original plot does
    ax.collections[0].set_visible(False)
    ax.imshow(wind, cmap="jet", vmin=0, vmax=15, aspect="auto", interpolation="bilinear",
              extent=(0, wind.shape[1], wind.shape[0], 0))
    ax.set_axis_off()

    ov = fig.add_axes(px_rect(left, right, top, bottom), facecolor="none")
    for points, colour, size in [(moderate_tables[i], "black", 24), (weak_tables[i], "white", 27), (strong_tables[i], "#ff00ff", 30)]:
        t, h = zip(*points)
        sns.scatterplot(x=list(t), y=list(h), marker="D", color=colour, s=size, linewidth=0, ax=ov, clip_on=True, zorder=3)
    t, h = zip(*green_tables[i])
    sns.lineplot(x=list(t), y=list(h), color="#0c6e12", linewidth=2.2, marker="o", markersize=7.5,
                 markeredgewidth=0, estimator=None, sort=False, ax=ov, zorder=4, clip_on=False)
    ov.set_xlim(0, 24)
    ov.set_ylim(0, top_height)
    ov.set_xticks(tick_hours)
    ov.set_xticklabels(tick_hour_labels)
    ov.set_yticks(tick_heights)
    ov.tick_params(axis="both", direction="in", length=2, width=1, bottom=True, left=True, labelsize=15, color="#222222")
    ov.tick_params(axis="x", pad=9)
    ov.tick_params(axis="y", pad=4)
    ov.set_xlabel("Time", fontsize=15, labelpad=6)
    ov.set_ylabel("Wind speed", fontsize=15, labelpad=5)
    ov.set_title(titles[i], fontsize=15, pad=12)
    for spine in ov.spines.values():
        spine.set_visible(True)
        spine.set_color("#333333")
        spine.set_linewidth(1.2)

cax.tick_params(length=2, labelsize=14, pad=2)
cax.set_yticks(cbar_ticks)
for spine in cax.spines.values():
    spine.set_visible(True)
    spine.set_color("#666666")

serif = ["Liberation Serif", "DejaVu Serif"]
fig.text(1010 / W, 1 - 697 / H, "m/s", family=serif, weight="bold", fontsize=30, ha="center", va="baseline")
prose = [("Strong local maximas in wind", 760), ("gradient (more than 1 m/s change", 818),
         ("in 100 m) shown in purple.", 877), ("Moderate in black and weak in", 960)]
for line, base in prose:
    fig.text(1160 / W, 1 - base / H, line, family=serif, fontsize=34.5, ha="left", va="baseline")

fig.savefig("out.png", dpi=100)
